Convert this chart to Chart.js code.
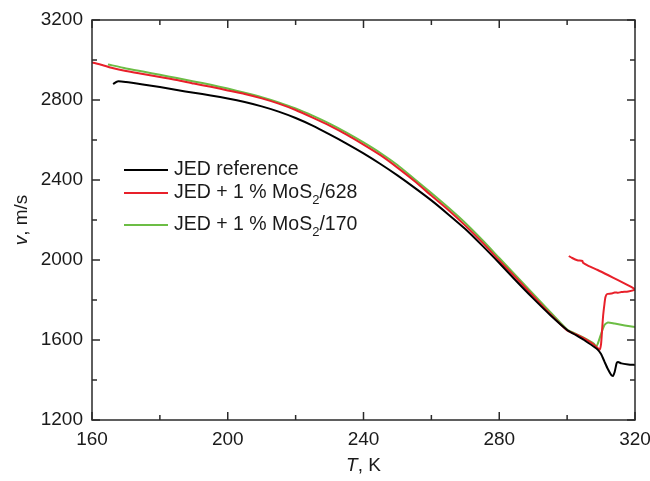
<!DOCTYPE html>
<html>
<head>
<meta charset="utf-8">
<script src="https://cdn.jsdelivr.net/npm/chart.js@4.4.1/dist/chart.umd.min.js"></script>
<style>
  body { margin: 0; background: #fff; }
  #wrap { width: 650px; height: 481px; }
</style>
</head>
<body>
<div id="wrap"><canvas id="soundChart" width="650" height="481"></canvas></div>
<script>
// Sound velocity v (m/s) against temperature T (K)
const refT = [166.2, 167.5, 170, 175, 180, 185, 190, 195, 200, 205, 210, 215, 220, 225, 230, 235, 240, 245, 250, 255, 260, 265, 270, 275, 280, 285, 290, 295, 300, 302, 305, 308, 309, 310, 311, 312, 313, 313.5, 314, 314.6, 315, 316, 318, 320];
const refV = [2880, 2893, 2890, 2878, 2865, 2850, 2836, 2823, 2808, 2790, 2768, 2742, 2710, 2672, 2628, 2582, 2533, 2480, 2423, 2362, 2298, 2228, 2155, 2072, 1985, 1895, 1808, 1725, 1650, 1630, 1600, 1565, 1552, 1530, 1492, 1455, 1425, 1420, 1440, 1485, 1490, 1483, 1478, 1475];

const mos628T = [160, 163, 166, 170, 175, 180, 185, 190, 195, 200, 205, 210, 215, 220, 225, 230, 235, 240, 245, 250, 255, 260, 265, 270, 275, 280, 285, 290, 295, 300, 303, 306, 308, 309, 309.6, 310, 310.3, 310.6, 311, 311.3, 311.8, 313, 314, 315, 316, 318, 320,
                 319, 317, 315, 312, 309, 306, 304.7, 304.5, 303, 301.5, 300.5];
const mos628V = [2988, 2975, 2960, 2945, 2930, 2915, 2900, 2882, 2866, 2848, 2830, 2808, 2782, 2750, 2712, 2672, 2627, 2577, 2524, 2462, 2395, 2322, 2250, 2172, 2088, 1998, 1910, 1820, 1730, 1648, 1625, 1598, 1575, 1560, 1552, 1580, 1650, 1720, 1780, 1815, 1830, 1832, 1838, 1836, 1840, 1843, 1852,
                 1864, 1882, 1899, 1925, 1950, 1973, 1986, 1995, 1999, 2010, 2020];

const mos170T = [164.7, 170, 175, 180, 185, 190, 195, 200, 205, 210, 215, 220, 225, 230, 235, 240, 245, 250, 255, 260, 265, 270, 275, 280, 285, 290, 295, 300, 302, 305, 308, 308.5, 309, 310, 311, 312, 314, 317, 320];
const mos170V = [2978, 2958, 2942, 2926, 2910, 2893, 2876, 2857, 2836, 2814, 2788, 2758, 2722, 2682, 2637, 2588, 2535, 2475, 2405, 2335, 2262, 2185, 2100, 2010, 1920, 1830, 1740, 1652, 1635, 1610, 1580, 1565, 1580, 1630, 1675, 1688, 1682, 1673, 1665];

const xMajor = [160, 200, 240, 280, 320];
const xMinor = [180, 220, 260, 300];
const yMajor = [1200, 1600, 2000, 2400, 2800, 3200];
const yMinor = [1400, 1800, 2200, 2600, 3000];

const FONT = "'Liberation Sans', Arial, sans-serif";

function toPoints(xs, ys) {
    return xs.map((x, i) => ({ x: x, y: ys[i] }));
}

const series = [
    { label: 'JED reference', color: '#000000', T: refT, V: refV },
    { label: 'JED + 1 % MoS|2|/628', color: '#e8202a', T: mos628T, V: mos628V },
    { label: 'JED + 1 % MoS|2|/170', color: '#6cbd45', T: mos170T, V: mos170V }
];

// writes "MoS|2|/628" with the 2 as a subscript
function drawRich(ctx, text, x, y) {
    const parts = text.split('|');
    let cx = x;
    parts.forEach((p, i) => {
        if (i % 2 === 1) {
            ctx.font = '13px ' + FONT;
            ctx.fillText(p, cx, y + 7);
        } else {
            ctx.font = '19.5px ' + FONT;
            ctx.fillText(p, cx, y);
        }
        cx += ctx.measureText(p).width;
    });
}

const framePlugin = {
    id: 'framePlugin',
    afterDatasetsDraw(chart) {
        const ctx = chart.ctx;
        const a = chart.chartArea;
        const xs = chart.scales.x, ys = chart.scales.y;
        ctx.save();
        ctx.strokeStyle = '#2a2a2a';
        ctx.lineWidth = 1.5;
        ctx.strokeRect(a.left, a.top, a.right - a.left, a.bottom - a.top);

        function seg(x1, y1, x2, y2) {
            ctx.beginPath();
            ctx.moveTo(x1, y1);
            ctx.lineTo(x2, y2);
            ctx.stroke();
        }
        xMajor.forEach(t => {
            const p = xs.getPixelForValue(t);
            seg(p, a.bottom, p, a.bottom - 8);
            seg(p, a.top, p, a.top + 8);
        });
        xMinor.forEach(t => {
            const p = xs.getPixelForValue(t);
            seg(p, a.bottom, p, a.bottom - 5);
            seg(p, a.top, p, a.top + 5);
        });
        yMajor.forEach(v => {
            const p = ys.getPixelForValue(v);
            seg(a.left, p, a.left + 8, p);
            seg(a.right, p, a.right - 8, p);
        });
        yMinor.forEach(v => {
            const p = ys.getPixelForValue(v);
            seg(a.left, p, a.left + 5, p);
            seg(a.right, p, a.right - 5, p);
        });

        // legend
        ctx.lineWidth = 2;
        ctx.textBaseline = 'middle';
        ctx.fillStyle = '#1a1a1a';
        const rows = [170, 193, 225];
        series.forEach((s, i) => {
            ctx.strokeStyle = s.color;
            seg(124, rows[i], 168, rows[i]);
            drawRich(ctx, s.label, 174, rows[i]);
        });

        // axis titles
        ctx.textBaseline = 'middle';
        ctx.font = 'italic 19px ' + FONT;
        const tW = ctx.measureText('T').width;
        ctx.font = '19px ' + FONT;
        const restW = ctx.measureText(', K').width;
        const xc = (a.left + a.right) / 2 - (tW + restW) / 2;
        ctx.font = 'italic 19px ' + FONT;
        ctx.fillText('T', xc, 466);
        ctx.font = '19px ' + FONT;
        ctx.fillText(', K', xc + tW, 466);

        ctx.translate(22, (a.top + a.bottom) / 2);
        ctx.rotate(-Math.PI / 2);
        ctx.font = 'italic 19px ' + FONT;
        const vW = ctx.measureText('v').width;
        ctx.font = '19px ' + FONT;
        const mW = ctx.measureText(', m/s').width;
        const yc = -(vW + mW) / 2;
        ctx.font = 'italic 19px ' + FONT;
        ctx.fillText('v', yc, 0);
        ctx.font = '19px ' + FONT;
        ctx.fillText(', m/s', yc + vW, 0);
        ctx.restore();
    }
};

const ctx = document.getElementById('soundChart').getContext('2d');
new Chart(ctx, {
    type: 'line',
    data: {
        datasets: series.map(s => ({
            label: s.label,
            data: toPoints(s.T, s.V),
            borderColor: s.color,
            backgroundColor: s.color,
            borderWidth: 2,
            pointRadius: 0,
            tension: 0.2,
            fill: false
        }))
    },
    options: {
        responsive: false,
        animation: false,
        layout: { padding: { top: 20, right: 15, left: 0, bottom: 0 } },
        plugins: {
            legend: { display: false },
            tooltip: { enabled: false }
        },
        scales: {
            x: {
                type: 'linear',
                min: 160,
                max: 320,
                border: { display: false },
                grid: { display: false, drawTicks: false },
                ticks: {
                    stepSize: 40,
                    padding: 8,
                    color: '#1a1a1a',
                    maxRotation: 0,
                    font: { family: FONT, size: 19 },
                    callback: v => String(v)
                },
                afterFit(scale) {
                    scale.height = 61;
                    scale.paddingLeft = 0;
                    scale.paddingRight = 0;
                }
            },
            y: {
                type: 'linear',
                min: 1200,
                max: 3200,
                border: { display: false },
                grid: { display: false, drawTicks: false },
                ticks: {
                    stepSize: 400,
                    padding: 9,
                    color: '#1a1a1a',
                    font: { family: FONT, size: 19 },
                    callback: v => String(v)
                },
                afterFit(scale) {
                    scale.width = 92;
                    scale.paddingTop = 0;
                    scale.paddingBottom = 0;
                }
            }
        }
    },
    plugins: [framePlugin]
});
</script>
</body>
</html>
